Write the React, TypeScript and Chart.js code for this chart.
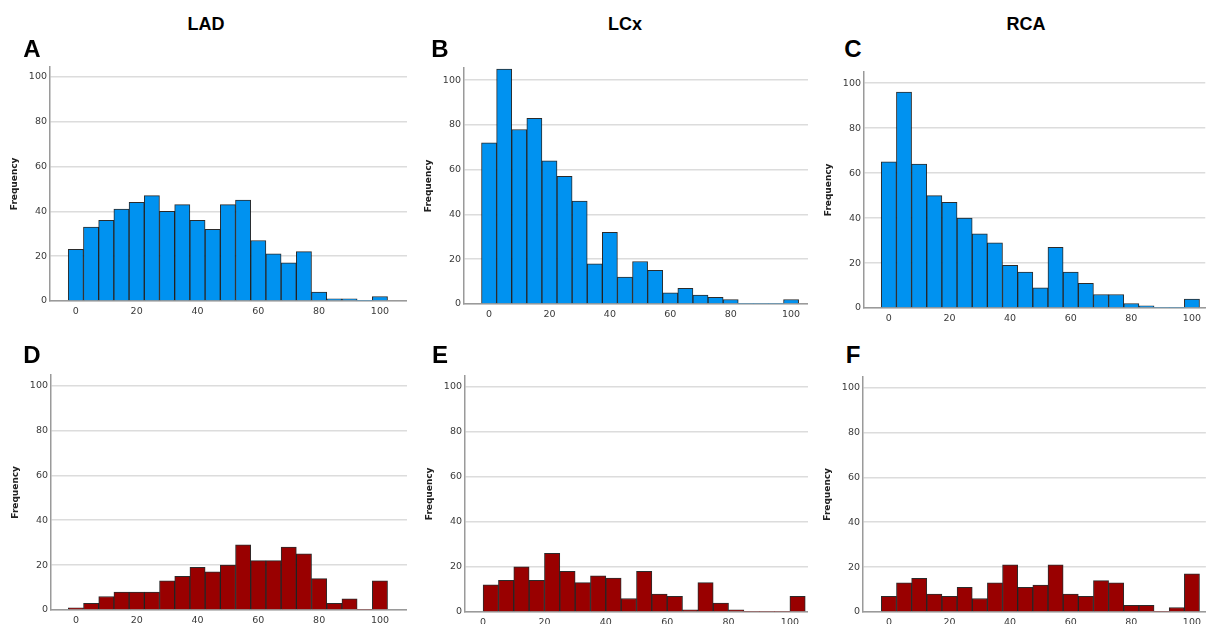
import React, { useEffect, useRef } from 'react';
import { Chart, registerables } from 'chart.js';

Chart.register(...registerables);

// ---- data ----
const binCenters = [0, 5, 10, 15, 20, 25, 30, 35, 40, 45, 50, 55, 60, 65, 70, 75, 80, 85, 90, 95, 100];
const binCentersShifted = [2.5, 7.5, 12.5, 17.5, 22.5, 27.5, 32.5, 37.5, 42.5, 47.5, 52.5, 57.5, 62.5, 67.5, 72.5, 77.5, 82.5, 87.5, 92.5, 97.5, 102.5];

const ladTop = [23, 33, 36, 41, 44, 47, 40, 43, 36, 32, 43, 45, 27, 21, 17, 22, 4, 1, 1, 0, 2];
const lcxTop = [72, 105, 78, 83, 64, 57, 46, 18, 32, 12, 19, 15, 5, 7, 4, 3, 2, 0, 0, 0, 2];
const rcaTop = [65, 96, 64, 50, 47, 40, 33, 29, 19, 16, 9, 27, 16, 11, 6, 6, 2, 1, 0, 0, 4];
const ladBottom = [1, 3, 6, 8, 8, 8, 13, 15, 19, 17, 20, 29, 22, 22, 28, 25, 14, 3, 5, 0, 13];
const lcxBottom = [12, 14, 20, 14, 26, 18, 13, 16, 15, 6, 18, 8, 7, 1, 13, 4, 1, 0, 0, 0, 7];
const rcaBottom = [7, 13, 15, 8, 7, 11, 6, 13, 21, 11, 12, 21, 8, 7, 14, 13, 3, 3, 0, 2, 17];

const xTickValues = [0, 20, 40, 60, 80, 100];
const yTickValues = [0, 20, 40, 60, 80, 100];

const columnTitles = ['LAD', 'LCx', 'RCA'];
const panelLetters = ['A', 'B', 'C', 'D', 'E', 'F'];

const BLUE = '#0092F0';
const RED = '#990000';

type PanelCfg = {
  centers: number[];
  values: number[];
  color: string;
  L: number; R: number; T: number; B: number;
  xmin: number; xmax: number; ymax: number;
};

const panels: PanelCfg[] = [
  { centers: binCenters, values: ladTop, color: BLUE, L: 50, R: 407, T: 64, B: 301, xmin: -8.5, xmax: 108.9, ymax: 104.5 },
  { centers: binCenters, values: lcxTop, color: BLUE, L: 464, R: 808, T: 65, B: 304, xmin: -8.3, xmax: 105.6, ymax: 105.6 },
  { centers: binCenters, values: rcaTop, color: BLUE, L: 864, R: 1206, T: 69, B: 308, xmin: -8.2, xmax: 104.4, ymax: 105.1 },
  { centers: binCenters, values: ladBottom, color: RED, L: 51, R: 407, T: 372, B: 610, xmin: -8.2, xmax: 108.9, ymax: 104.8 },
  { centers: binCentersShifted, values: lcxBottom, color: RED, L: 465, R: 808, T: 373, B: 612, xmin: -5.9, xmax: 105.9, ymax: 104.8 },
  { centers: binCenters, values: rcaBottom, color: RED, L: 863, R: 1206, T: 374, B: 612, xmin: -8.55, xmax: 104.6, ymax: 104.8 },
];

const Y_AXIS_W = 44;
const X_AXIS_H = 22;
const PAD_TOP = 6;
const TICK_FONT = { family: '"DejaVu Sans", sans-serif', size: 9.5 };

function Panel({ cfg }: { cfg: PanelCfg }) {
  const ref = useRef<HTMLCanvasElement | null>(null);
  const left = cfg.L - Y_AXIS_W;
  const top = cfg.T - PAD_TOP;
  const width = cfg.R - left;
  const height = cfg.B + X_AXIS_H - top;

  useEffect(() => {
    if (!ref.current) return;
    const pts = cfg.centers.map((c, i) => ({ x: c, y: cfg.values[i] }));
    const chart = new Chart(ref.current, {
      type: 'bar',
      data: {
        datasets: [
          {
            data: pts as any,
            backgroundColor: cfg.color,
            borderColor: 'rgba(20,20,20,0.9)',
            borderWidth: ((ctx: any) => (ctx.raw && ctx.raw.y === 0 ? 0 : 1)) as any,
            barPercentage: 1,
            categoryPercentage: 1,
            grouped: false,
          } as any,
        ],
      },
      options: {
        animation: false,
        responsive: false,
        devicePixelRatio: 1,
        layout: { padding: { top: PAD_TOP, left: 0, right: 0, bottom: 0 } },
        plugins: { legend: { display: false }, tooltip: { enabled: false } },
        scales: {
          x: {
            type: 'linear',
            offset: false,
            min: cfg.xmin,
            max: cfg.xmax,
            grid: { display: false, drawTicks: false },
            border: { display: true, color: '#9a9a9a', width: 1.5 },
            ticks: { font: TICK_FONT, color: '#3a3a3a', padding: 5, maxRotation: 0, autoSkip: false },
            afterBuildTicks: (s: any) => {
              s.ticks = xTickValues.map((v) => ({ value: v }));
            },
            afterFit: (s: any) => {
              s.height = X_AXIS_H;
            },
          },
          y: {
            type: 'linear',
            min: 0,
            max: cfg.ymax,
            grid: { color: '#dcdcdc', lineWidth: 1.5, drawTicks: false },
            border: { display: true, color: '#9a9a9a', width: 1.5 },
            ticks: { font: TICK_FONT, color: '#3a3a3a', padding: 3, autoSkip: false },
            title: {
              display: true,
              text: 'Frequency',
              color: '#222',
              font: { family: '"DejaVu Sans", sans-serif', size: 9, weight: 'bold' },
              padding: { top: 3.5, bottom: 0 },
            },
            afterBuildTicks: (s: any) => {
              s.ticks = yTickValues.map((v) => ({ value: v }));
            },
            afterFit: (s: any) => {
              s.width = Y_AXIS_W;
            },
          },
        },
      } as any,
    });
    return () => chart.destroy();
  }, [cfg]);

  return (
    <canvas
      ref={ref}
      width={width}
      height={height}
      style={{ position: 'absolute', left, top, width, height }}
    />
  );
}

const titleXs = [206, 625, 1026];
const letterXs = [32, 440, 853];

export default function App() {
  return (
    <div
      style={{
        position: 'absolute',
        left: 0,
        top: 0,
        width: 1206,
        height: 624,
        overflow: 'hidden',
        background: '#fff',
        fontFamily: '"Liberation Sans", Arial, sans-serif',
      }}
    >
      {panels.map((p, i) => (
        <Panel key={i} cfg={p} />
      ))}
      {columnTitles.map((t, i) => (
        <div
          key={t}
          style={{
            position: 'absolute',
            left: titleXs[i],
            top: 14.8,
            transform: 'translateX(-50%)',
            fontSize: 18,
            lineHeight: '18px',
            fontWeight: 'bold',
            color: '#000',
            whiteSpace: 'nowrap',
          }}
        >
          {t}
        </div>
      ))}
      {panelLetters.map((t, i) => (
        <div
          key={t}
          style={{
            position: 'absolute',
            left: letterXs[i % 3],
            top: i < 3 ? 36.7 : 342.7,
            transform: 'translateX(-50%)',
            fontSize: 24,
            lineHeight: '24px',
            fontWeight: 'bold',
            color: '#000',
            whiteSpace: 'nowrap',
          }}
        >
          {t}
        </div>
      ))}
    </div>
  );
}
